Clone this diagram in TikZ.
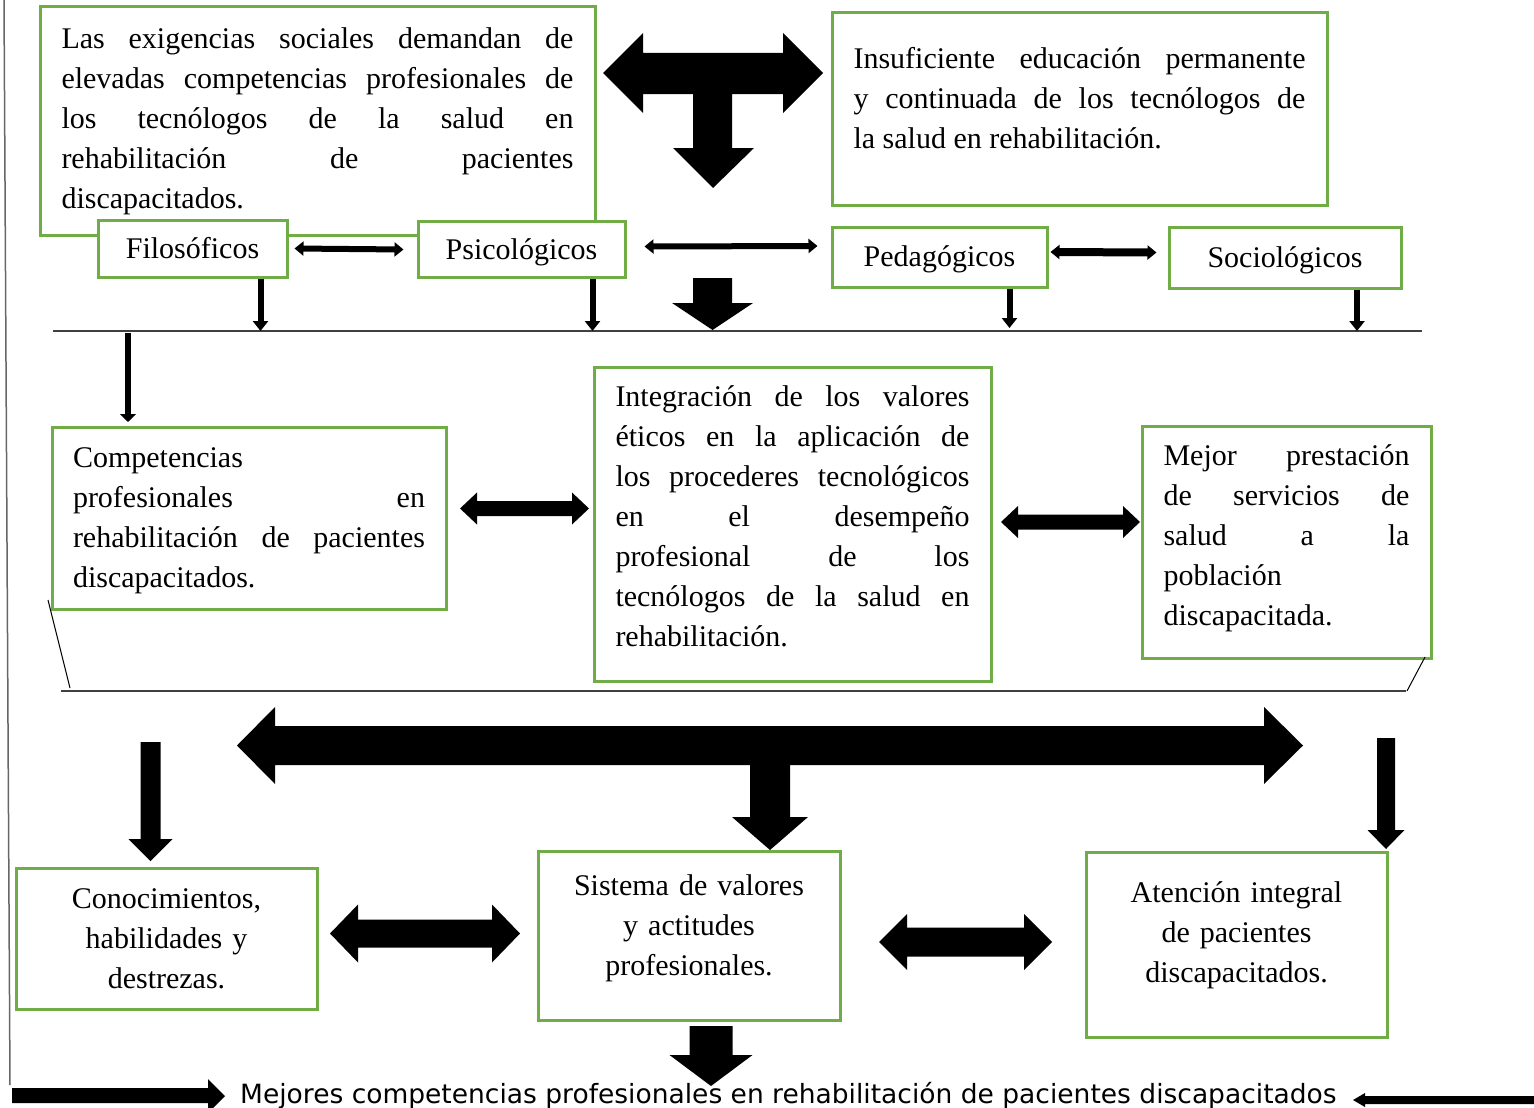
\documentclass[tikz,border=0pt]{standalone}
\usepackage{fontspec}
\setmainfont{Liberation Serif}
\newfontfamily\verdanafont{DejaVu Sans}
\usetikzlibrary{arrows.meta}
\definecolor{boxgreen}{RGB}{112,173,71}
\hyphenpenalty=10000
\exhyphenpenalty=10000
\tolerance=10000
% lift the text of a box a little
\newcommand{\lift}[1]{\par\vspace{#1}\hrule height0pt}
% x1, x2, y, shaft, head, head length
\newcommand{\hdblarrow}[6]{\fill (#1,#3) -- (#1+#6,#3-#5) -- (#1+#6,#3-#4) -- (#2-#6,#3-#4) -- (#2-#6,#3-#5) -- (#2,#3) -- (#2-#6,#3+#5) -- (#2-#6,#3+#4) -- (#1+#6,#3+#4) -- (#1+#6,#3+#5) -- cycle;}
% x, y1, y2 (tip), shaft, head, head length
\newcommand{\vdownarrow}[6]{\fill (#1-#4,#2) -- (#1+#4,#2) -- (#1+#4,#3-#6) -- (#1+#5,#3-#6) -- (#1,#3) -- (#1-#5,#3-#6) -- (#1-#4,#3-#6) -- cycle;}

\begin{document}
\begin{tikzpicture}[x=1pt, y=-1pt,
  greenbox/.style={draw=boxgreen, line width=3pt, fill=white, inner sep=0pt,
    font=\fontsize{30}{40}\selectfont},
  smallbox/.style={greenbox, text height=25pt, text depth=6pt},
  justbox/.style={greenbox, align=justify},
  centbox/.style={greenbox, align=center},
  thinarrow/.style={line width=6pt, -{Triangle[length=10pt,width=15pt]}},
  thindbl/.style={line width=#1, {Triangle[length=9pt,width=14pt]}-{Triangle[length=9pt,width=14pt]}},
  rulegray/.style={draw=black!75, line width=2pt}]
  \useasboundingbox (0,0) rectangle (1534,1108);
  \clip (0,0) rectangle (1534,1108);
  \draw[black!60, line width=1.5pt] (4,0) -- (10,1085);

  % top row
  \node[justbox, minimum width=555pt, minimum height=228pt, text width=512pt] (exig) at (317.5,121)
    {Las exigencias sociales demandan de\linebreak elevadas competencias profesionales de\linebreak los tecnólogos de la salud en\linebreak rehabilitación de pacientes\linebreak discapacitados.};
  \node[justbox, minimum width=495pt, minimum height=192pt, text width=452pt] (insuf) at (1079.5,109)
    {Insuficiente educación permanente\linebreak y continuada de los tecnólogos de\linebreak la salud en rehabilitación.\lift{22pt}};
  \fill (603,73) -- (643,33) -- (643,53) -- (783,53) -- (783,33) -- (823,73) -- (783,113) -- (783,94)
    -- (732,94) -- (732,148) -- (754,148) -- (713,188) -- (673,148) -- (693,148) -- (693,94)
    -- (643,94) -- (643,113) -- cycle;

  \node[smallbox, minimum width=189pt, minimum height=57pt] (filo) at (192.5,248.5) {Filosóficos};
  \node[smallbox, minimum width=207pt, minimum height=56pt] (psico) at (521.5,249.5) {Psicológicos};
  \node[smallbox, minimum width=215pt, minimum height=60pt] (ped) at (939.5,257) {Pedagógicos};
  \node[smallbox, minimum width=232pt, minimum height=61pt] (soc) at (1285,257.5) {Sociológicos};
  \draw[thindbl=6pt] ([xshift=6pt]filo.east) -- ([xshift=-13pt]psico.west);
  \draw[thindbl=6pt] ([xshift=18pt,yshift=3pt]psico.east) -- ([xshift=-13pt,yshift=11pt]ped.west);
  \draw[thindbl=8pt] ([xshift=2pt,yshift=5pt]ped.east) -- ([xshift=-11pt,yshift=5pt]soc.west);

  \coordinate (ruleA-w) at (53,331);
  \coordinate (ruleA-e) at (1422,331);
  \draw[rulegray] (ruleA-w) -- (ruleA-e);
  \draw[thinarrow] ([xshift=68pt]filo.south) -- ([xshift=68pt]filo.south |- ruleA-w);
  \draw[thinarrow] ([xshift=71pt]psico.south) -- ([xshift=71pt]psico.south |- ruleA-w);
  \draw[thinarrow] ([xshift=70pt]ped.south) -- ([xshift=70pt,yshift=3pt]ped.south |- ruleA-w);
  \draw[thinarrow] ([xshift=72pt]soc.south) -- ([xshift=72pt]soc.south |- ruleA-w);
  \vdownarrow{712.5}{278}{330}{19.5}{40.5}{27}

  % middle row
  \node[justbox, minimum width=394pt, minimum height=182pt, text width=352pt] (comp) at (249,518)
    {Competencias\linebreak profesionales en\linebreak rehabilitación de pacientes\linebreak discapacitados.\lift{-5pt}};
  \node[justbox, minimum width=397pt, minimum height=314pt, text width=354pt] (integ) at (792.5,524)
    {Integración de los valores\linebreak éticos en la aplicación de\linebreak los procederes tecnológicos\linebreak en el desempeño\linebreak profesional de los\linebreak tecnólogos de la salud en\linebreak rehabilitación.\lift{16pt}};
  \node[justbox, minimum width=289pt, minimum height=232pt, text width=246pt] (mejor) at (1286.5,542)
    {Mejor prestación\linebreak de servicios de\linebreak salud a la\linebreak población\linebreak discapacitada.\lift{8pt}};
  \coordinate (compin) at (128,333);
  \draw[thinarrow, -{Triangle[length=8pt,width=16pt]}] (compin) -- (compin |- 0,422);
  \hdblarrow{460}{589}{508.5}{7.5}{16}{17}
  \hdblarrow{1001}{1140}{522}{7.5}{16}{17}

  \coordinate (ruleB-w) at (61,691);
  \coordinate (ruleB-e) at (1406,691);
  \draw[rulegray] (ruleB-w) -- (ruleB-e);
  \draw[line width=1pt] (48,600) -- (70,688);
  \draw[line width=1pt] (1425,657) -- (1407,691);

  % bottom row
  \fill (237,745.5) -- (275,707) -- (275,726) -- (1264,726) -- (1264,707) -- (1303,745.5) -- (1264,784)
    -- (1264,765) -- (790,765) -- (790,817) -- (808,817) -- (770,850) -- (732,817) -- (750,817)
    -- (750,765) -- (275,765) -- (275,784) -- cycle;
  \vdownarrow{150.5}{742}{861}{10}{22}{22}
  \vdownarrow{1386}{738}{849}{9}{18.5}{19}

  \node[centbox, minimum width=301pt, minimum height=141pt, text width=270pt] (conoc) at (166.5,938.5)
    {Conocimientos,\\ habilidades y\\ destrezas.};
  \node[centbox, minimum width=302pt, minimum height=169pt, text width=280pt] (sist) at (689,935.5)
    {Sistema de valores\\ y actitudes\\ profesionales.\lift{15pt}};
  \node[centbox, minimum width=301pt, minimum height=185pt, text width=280pt] (aten) at (1236.5,944.5)
    {Atención integral\\ de pacientes\\ discapacitados.\lift{18pt}};
  \hdblarrow{330}{520}{933.5}{14}{29}{28}
  \hdblarrow{879}{1052}{942}{14.5}{28}{28}

  \node[font=\verdanafont\fontsize{26.5}{32}\selectfont, anchor=base west, inner sep=0pt] (result) at (240,1103)
    {Mejores competencias profesionales en rehabilitación de pacientes discapacitados};
  \vdownarrow{711}{1026}{1086}{21.5}{41.5}{31}
  \fill (12,1088) -- (208,1088) -- (208,1079) -- (225,1096) -- (208,1113) -- (208,1103) -- (12,1103) -- cycle;
  \fill (1353,1100) -- (1365,1093) -- (1365,1096) -- (1540,1096) -- (1540,1104) -- (1365,1104) -- (1365,1107) -- cycle;
\end{tikzpicture}
\end{document}
